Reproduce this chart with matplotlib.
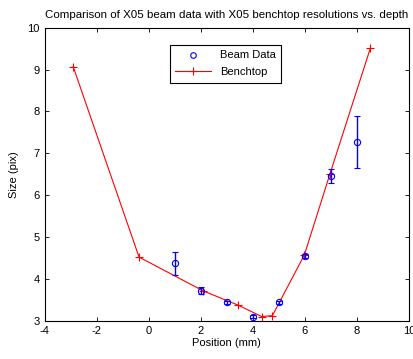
import numpy as np
import matplotlib
matplotlib.use("Agg")
import matplotlib.pyplot as plt
from matplotlib.lines import Line2D

plt.rcParams['font.family'] = ['Liberation Sans', 'DejaVu Sans']
plt.rcParams['axes.unicode_minus'] = False

# Beam data (position in mm, size in pix, error)
beam_x = [1, 2, 3, 4, 5, 6, 7, 8]
beam_y = [4.37, 3.72, 3.44, 3.10, 3.44, 4.55, 6.46, 7.26]
beam_err = [0.28, 0.08, 0.04, 0.03, 0.03, 0.05, 0.16, 0.62]

# Benchtop resolutions
bench_x = [-2.9, -0.37, 2.10, 3.44, 4.34, 4.75, 5.98, 6.96, 8.52]
bench_y = [9.07, 4.52, 3.71, 3.37, 3.10, 3.12, 4.57, 6.50, 9.52]

fig = plt.figure(figsize=(4.14, 3.59), dpi=100)
ax = fig.add_axes([0.1075, 0.1067, 0.8805, 0.8163])

ax.errorbar(beam_x, beam_y, yerr=beam_err, fmt='o', color='blue', mfc='none',
            ms=4.5, mew=0.8, elinewidth=1.0, capsize=2.5, zorder=3)
ax.plot(bench_x, bench_y, '-+', color='red', lw=0.8, ms=6, mew=0.8, zorder=2)

ax.set_xlim(-4, 10)
ax.set_ylim(3, 10)
ax.set_xticks(np.arange(-4, 11, 2))
ax.set_yticks(np.arange(3, 11, 1))
ax.tick_params(direction='in', top=True, right=True, labelsize=8, length=3, width=0.6)
for s in ax.spines.values():
    s.set_linewidth(0.8)

ax.set_xlabel('Position (mm)', fontsize=8, labelpad=2)
ax.set_ylabel('Size (pix)', fontsize=8, labelpad=6)
ax.set_title('Comparison of X05 beam data with X05 benchtop resolutions vs. depth',
             fontsize=8.25, pad=7)

handles = [
    Line2D([], [], ls='none', marker='o', color='blue', mfc='none', ms=4, mew=0.8),
    Line2D([], [], ls='-', marker='+', color='red', lw=0.8, ms=6, mew=0.8),
]
leg = ax.legend(handles, ['Beam Data', 'Benchtop'], loc='upper left',
                bbox_to_anchor=(0.328, 0.96), fontsize=8,
                fancybox=False, edgecolor='black', framealpha=1,
                handlelength=3.2, borderpad=0.5, labelspacing=0.6)
leg.get_frame().set_linewidth(0.8)

fig.savefig('out.png', dpi=100)
